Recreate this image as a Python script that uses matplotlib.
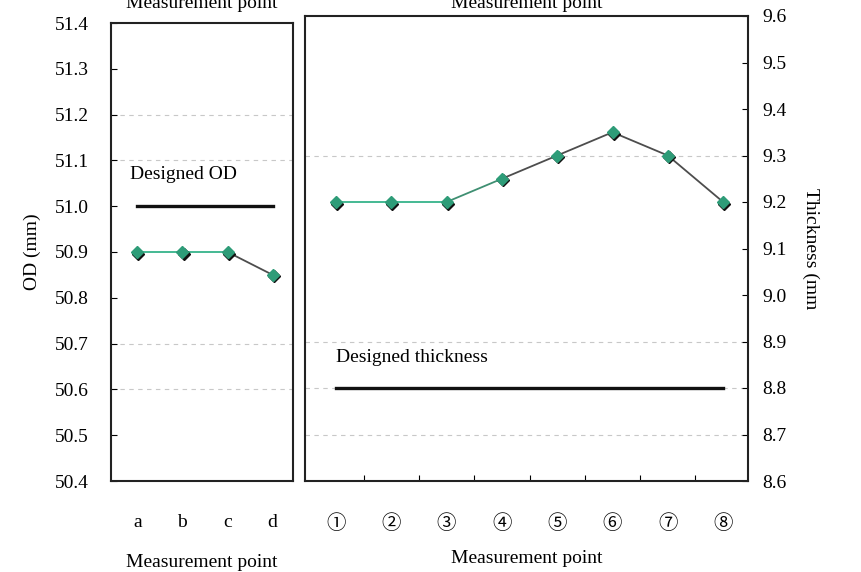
import numpy as np
import matplotlib.pyplot as plt
from matplotlib.transforms import ScaledTranslation

plt.rcParams['font.family'] = ['Liberation Serif', 'Noto Sans CJK JP', 'DejaVu Sans']
plt.rcParams['font.size'] = 14

# outer diameter at points a-d
od_points = ['a', 'b', 'c', 'd']
od_values = [50.9, 50.9, 50.9, 50.85]
od_design = 51.0

# wall thickness at points 1-8
th_points = ['①', '②', '③', '④', '⑤', '⑥', '⑦', '⑧']
th_values = [9.2, 9.2, 9.2, 9.25, 9.3, 9.35, 9.3, 9.2]
th_design = 8.8

od_ticks = [50.4, 50.5, 50.6, 50.7, 50.8, 50.9, 51.0, 51.1, 51.2, 51.3, 51.4]
th_ticks = [8.6, 8.7, 8.8, 8.9, 9.0, 9.1, 9.2, 9.3, 9.4, 9.5, 9.6]

GREEN = '#36b38a'
GRAY = '#4d4d4d'


def draw_series(ax, x, y, seg_colors):
    for i in range(len(x) - 1):
        ax.plot(x[i:i + 2], y[i:i + 2], color=seg_colors[i], lw=1.3, zorder=3)
    # dark shadow under each diamond, green diamond on top
    shadow = ax.transData + ScaledTranslation(1.2 / 100, -1.5 / 100,
                                              ax.figure.dpi_scale_trans)
    ax.plot(x, y, ls='none', marker='D', ms=6.5, color='#111111',
            transform=shadow, zorder=4)
    ax.plot(x, y, ls='none', marker='D', ms=6.5, mfc='#2e9c78', mec='#2e9c78',
            zorder=5)


def style_axis(ax):
    for s in ax.spines.values():
        s.set_linewidth(1.5)
        s.set_color('#222222')
    ax.tick_params(axis='y', direction='in', length=4, width=0.8)
    ax.tick_params(axis='x', length=0, pad=24)


fig = plt.figure(figsize=(8.62, 5.72), dpi=100)
ax1 = fig.add_axes([111 / 862, 1 - 481 / 572, 182 / 862, 458 / 572])
ax2 = fig.add_axes([305 / 862, 1 - 481 / 572, 443 / 862, 465 / 572])

# left panel: OD
x1 = np.arange(1, len(od_points) + 1)
for g in [51.2, 51.1, 50.7, 50.6]:
    ax1.axhline(g, color='#c8c8c8', ls=(0, (4, 4)), lw=0.8, zorder=1)
ax1.plot([x1[0], x1[-1]], [od_design, od_design], color='#111111', lw=2.4, zorder=2)
ax1.text(x1[0] - 0.15, od_design + 0.07, 'Designed OD', ha='left', va='center')
draw_series(ax1, x1, od_values, [GREEN, GREEN, GRAY])
ax1.set_xlim(0.42, 4.45)
ax1.set_ylim(50.4, 51.4)
ax1.set_yticks(od_ticks)
ax1.set_yticklabels([f'{t:.1f}' for t in od_ticks])
ax1.set_xticks(x1)
ax1.set_xticklabels(od_points)
ax1.set_xlabel('Measurement point', labelpad=16)
ax1.set_ylabel('OD (mm)', labelpad=10)
ax1.tick_params(axis='y', pad=16)
style_axis(ax1)

# right panel: thickness
x2 = np.arange(1, len(th_points) + 1)
for g in [9.3, 8.9, 8.8, 8.7]:
    ax2.axhline(g, color='#c8c8c8', ls=(0, (4, 4)), lw=0.8, zorder=1)
ax2.plot([x2[0], x2[-1]], [th_design, th_design], color='#111111', lw=2.4, zorder=2)
ax2.text(x2[0], th_design + 0.065, 'Designed thickness', ha='left', va='center')
draw_series(ax2, x2, th_values,
            [GREEN, GREEN, '#3f8f72', GRAY, GRAY, GRAY, GRAY])
ax2.set_xlim(0.44, 8.45)
ax2.set_ylim(8.6, 9.6)
ax2.yaxis.tick_right()
ax2.yaxis.set_label_position('right')
ax2.set_yticks(th_ticks)
ax2.set_yticklabels([f'{t:.1f}' for t in th_ticks])
ax2.set_xticks(x2)
ax2.set_xticklabels(th_points)
ax2.set_xticks(x2[:-1] + 0.5, minor=True)
ax2.tick_params(axis='x', which='minor', direction='in', length=4, width=0.8)
ax2.set_xlabel('Measurement point', labelpad=12)
ax2.set_ylabel('Thickness (mm', rotation=270, labelpad=24)
ax2.tick_params(axis='y', pad=10)
style_axis(ax2)

# top axis titles, partly outside the canvas
for ax in (ax1, ax2):
    pos = ax.get_position()
    fig.text((pos.x0 + pos.x1) / 2, 1 - 8 / 572, 'Measurement point',
             ha='center', va='baseline')

fig.savefig('out.png', dpi=100)
